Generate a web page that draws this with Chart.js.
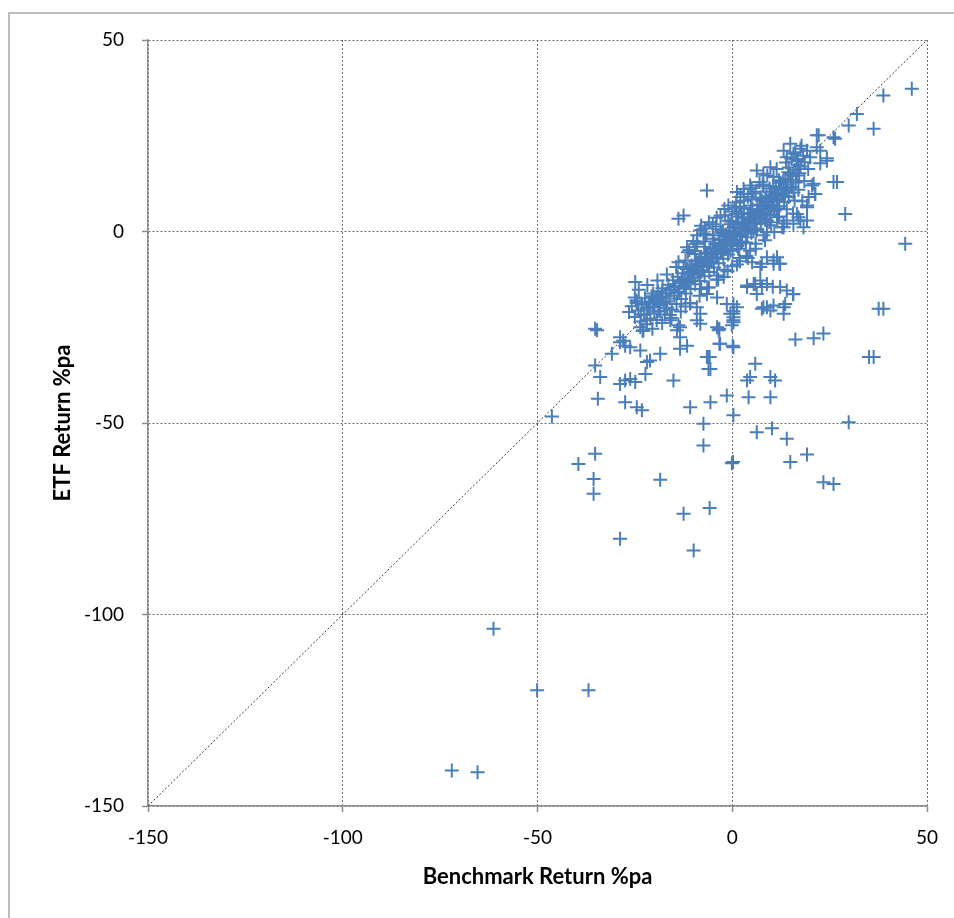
<!DOCTYPE html>
<html><head><meta charset="utf-8">
<script src="https://cdn.jsdelivr.net/npm/chart.js@4.4.1/dist/chart.umd.min.js"></script>
<style>html,body{margin:0;padding:0;background:#fff;}canvas{display:block;}</style>
</head><body>
<canvas id="c" width="954" height="918"></canvas>
<script>
// Axis ticks
const xTicks = [-150, -100, -50, 0, 50];
const yTicks = [-150, -100, -50, 0, 50];
// reference line y = x, endpoints
const diagonal = [-150, 50];

// [Benchmark Return %pa, ETF Return %pa]
const bandPoints = [
[-26.5,-21.0],[-25.8,-19.5],[-25.0,-22.3],[-24.6,-18.0],[-24.1,-20.6],[-23.5,-23.5],[-23.2,-19.1],[-22.7,-21.8],[-22.4,-17.4],[-22.0,-24.2],
[-21.6,-20.1],[-21.3,-18.6],[-21.0,-22.7],[-20.7,-16.9],[-20.3,-19.8],[-20.0,-21.4],[-19.7,-17.8],[-19.4,-23.1],[-19.1,-15.6],[-18.8,-19.2],
[-18.5,-20.9],[-18.2,-17.0],[-17.9,-14.8],[-17.6,-18.6],[-17.3,-21.7],[-17.0,-16.2],[-16.7,-19.9],[-16.4,-13.9],[-16.1,-17.5],[-15.8,-15.3],
[-15.5,-20.4],[-15.2,-12.7],[-14.9,-16.8],[-14.6,-14.6],[-14.3,-18.9],[-14.0,-11.8],[-13.7,-15.7],[-13.4,-13.5],[-13.1,-17.6],[-12.8,-10.9],
[-12.5,-14.3],[-12.2,-12.4],[-11.9,-16.2],[-11.6,-9.8],[-11.3,-13.2],[-11.0,-11.1],[-10.7,-15.0],[-10.4,-8.9],[-10.1,-12.0],[-9.8,-10.2],
[-9.5,-13.8],[-9.2,-7.8],[-8.9,-11.3],[-8.6,-9.2],[-8.3,-12.9],[-8.0,-6.7],[-7.7,-10.1],[-7.4,-8.1],[-7.1,-11.7],[-6.8,-5.6],
[-6.5,-9.0],[-6.2,-7.0],[-5.9,-10.6],[-5.6,-4.4],[-5.3,-7.9],[-5.0,-6.0],[-4.7,-9.4],[-4.4,-3.3],[-4.1,-6.8],[-3.8,-4.9],
[-3.5,-8.3],[-3.2,-2.2],[-2.9,-5.6],[-2.6,-3.8],[-2.3,-7.1],[-2.0,-1.1],[-1.7,-4.5],[-1.4,-2.7],[-1.1,-6.0],[-0.8,0.1],
[-0.5,-3.4],[-0.2,-1.6],[0.1,-4.9],[0.4,1.2],[0.7,-2.2],[1.0,-0.4],[1.3,-3.8],[1.6,2.3],[1.9,-1.1],[2.2,0.7],
[2.5,-2.6],[2.8,3.5],[3.1,0.1],[3.4,1.9],[3.7,-1.5],[4.0,4.6],[4.3,1.3],[4.6,3.0],[4.9,-0.3],[5.2,5.8],
[5.5,2.4],[5.8,4.2],[6.1,0.8],[6.4,6.9],[6.7,3.6],[7.0,5.4],[7.3,2.0],[7.6,8.1],[7.9,4.7],[8.2,6.5],
[8.5,3.1],[8.8,9.2],[9.1,5.9],[9.4,7.7],[9.7,4.3],[10.0,10.4],[10.3,7.0],[10.6,8.8],[10.9,5.5],[11.2,11.5],
[11.5,8.2],[11.8,10.0],[12.1,6.6],[12.4,12.7],[12.7,9.3],[13.0,11.1],[13.3,7.8],[13.6,13.8],[13.9,10.5],[14.2,12.3],
[14.5,9.0],[14.8,15.0],[15.1,11.6],[15.4,13.4],[15.7,10.2],[16.0,16.1],[16.3,12.8],[16.6,14.6],[16.9,17.3],[17.2,15.2],
[-24.0,-15.2],[-23.0,-26.0],[-21.8,-14.0],[-20.5,-25.4],[-19.2,-12.8],[-18.0,-23.9],[-16.8,-11.2],[-15.6,-22.6],[-14.4,-9.3],[-13.2,-20.9],
[-12.0,-7.6],[-10.8,-18.7],[-9.6,-5.9],[-8.4,-16.8],[-7.2,-4.0],[-6.0,-14.6],[-4.8,-1.9],[-3.6,-12.5],[-2.4,0.2],[-1.2,-10.4],
[0.0,2.6],[1.2,-8.6],[2.4,4.5],[3.6,-6.4],[4.8,6.8],[6.0,-4.5],[7.2,8.9],[8.4,-2.3],[9.6,11.2],[10.8,-0.1],
[12.0,13.4],[13.2,2.1],[14.4,15.5],[15.6,4.7],[16.8,18.4],[18.0,7.9],[-1.8,4.2],[0.6,6.2],[3.0,8.0],[5.4,9.9],
[7.8,12.3],[9.0,14.6],[11.4,16.3],[13.8,18.0],[-6.6,-0.8],[-9.0,-3.1],[-11.4,-5.4],[-13.8,-8.0],[-4.2,1.3],[1.8,-6.9],
[-15.0,-14.4],[-14.0,-15.8],[-13.0,-12.9],[-12.0,-14.9],[-11.0,-9.6],[-10.0,-11.0],[-9.0,-8.4],[-8.0,-10.6],[-7.0,-7.1],[-6.0,-8.3],
[-5.0,-4.7],[-4.0,-5.9],[-3.0,-3.9],[-2.0,-4.6],[-1.0,-1.5],[0.0,-2.6],[1.0,0.9],[2.0,-0.9],[3.0,2.4],[4.0,0.5],
[5.0,3.7],[6.0,2.1],[7.0,7.0],[8.0,4.9],[9.0,7.9],[10.0,6.2],[11.0,9.7],[12.0,8.5],[13.0,13.0],[14.0,11.4],
[-17.0,-18.2],[-18.0,-16.1],[-19.0,-20.7],[-20.5,-18.3],[-22.0,-19.9],[-23.5,-21.6],[-25.0,-17.2],[-2.5,-0.4],[-0.5,1.9],[1.5,3.9]
];

const coreExtraPoints = [
[-12.5,-9.5],[-11.5,-12.8],[-10.5,-10.5],[-9.5,-9.0],[-8.5,-7.6],[-7.5,-9.3],[-6.5,-5.8],[-5.5,-7.1],[-4.5,-5.2],[-3.5,-3.0],
[-2.5,-5.3],[-1.5,-0.8],[-0.5,-5.0],[0.5,-1.2],[1.5,-4.5],[2.5,1.8],[3.5,-2.9],[4.5,4.8],[5.5,0.2],[6.5,5.2],
[7.5,3.2],[8.5,8.6],[9.5,2.4],[10.5,11.8],[11.5,6.0],[12.5,10.9],[13.5,9.3],[14.5,16.7],[15.5,14.6],[16.5,18.9],
[17.5,17.0],[18.2,19.8],[-1.0,2.8],[1.0,4.6],[3.0,6.1],[5.0,8.4],[-3.0,0.6],[-5.0,-1.0],[-7.0,-2.6],[-9.5,-5.1]
];

const bandEdgePoints = [
[-11.0,-4.8],[-10.0,-2.5],[-9.0,-1.0],[-8.0,1.5],[-7.0,0.8],[-6.0,2.4],[-5.0,1.9],[-4.0,3.6],[-3.0,4.1],[-2.0,5.9],
[-1.0,6.8],[0.0,5.2],[1.0,7.6],[2.0,6.5],[3.0,9.8],[4.0,9.1],[5.0,11.3],[6.0,10.4],[7.0,12.9],[8.0,11.8],
[-4.0,-12.6],[-2.0,-10.0],[0.0,-9.1],[2.0,-7.8],[4.0,-6.9],[6.0,-3.2],[8.0,-1.0],[10.0,1.6],[12.0,3.9],[14.0,5.8],
[16.0,8.1],[17.0,10.9],[18.5,13.2],[-8.0,-15.0],[-12.0,-19.6],[-16.0,-21.8],[17.8,22.4],[18.6,18.1],[19.5,16.3],[16.2,20.7],
[15.2,19.0]
];

const nearBandPoints = [
[-6.5,10.7],[-13.8,3.3],[-12.5,4.2],[1.2,10.3],[2.1,9.0],[4.6,12.0],[2.9,11.1],[6.3,15.9],[8.0,15.1],[9.8,16.8],
[10.6,14.2],[13.2,21.1],[14.9,22.9],[15.7,20.3],[14.0,19.4],[17.5,21.6],[19.2,21.1],[20.0,19.4],[-8.2,0.3],[-7.4,-0.5],
[-9.1,-3.2],[-11.6,-4.1],[20.9,12.5],[19.6,9.0],[19.2,6.3],[16.6,4.6],[14.0,2.9],[13.2,1.1],[17.5,2.9],[18.3,1.1],
[26.0,12.9],[22.6,17.8],[24.3,19.1],[10.6,5.5],[11.5,3.7],[8.9,2.9],[7.2,4.6],[6.3,0.3],[8.9,-0.2],[3.8,-0.6],
[2.1,-3.2],[4.6,-5.0],[8.9,-6.7],[11.5,-6.7],[17.0,3.7],[19.2,2.9],[15.7,2.0],[12.8,1.1],[21.3,9.8],[20.5,12.0],
[22.6,21.1],[21.7,22.0],[21.7,25.1],[26.0,24.6],[5.1,-8.0],[7.2,-9.3],[10.6,-8.4],[12.3,-8.4],[15.7,-16.3],[12.3,-14.5],
[14.0,-15.4],[8.9,-13.7],[7.2,-12.8],[1.2,-19.8],[0.3,-21.5],[8.0,-19.8],[10.6,-19.3],[13.2,-19.8],[-6.5,-16.3],[-3.9,-17.2],
[-3.9,-11.5],[-2.2,-11.9],[-24.9,-13.2],[-24.5,-18.7],[-20.3,-16.2],[-18.5,-17.2],[-19.3,-18.0],[15.6,-16.4],[12.1,-8.4],[3.8,-14.1],
[5.9,-13.7],[10.4,-14.4],[13.6,-18.9],[13.2,-21.5],[7.6,-20.2],[9.8,-20.6],[0.3,-22.4],[0.3,-23.7],[0.3,-19.0],[-3.3,-25.4],
[-6.4,-14.6],[-10.8,-18.8],[-15.9,-23.2],[-13.4,-25.0],[-9.1,-23.2],[-3.9,-25.0],[-1.4,-18.9],[-0.5,-21.5],[0.3,-23.2],[5.5,-13.7],
[7.6,-8.4],[10.6,-7.6],[3.8,-14.5],[6.3,-16.3],[7.6,-14.5],[8.9,-19.8],[-19.3,-17.2],[-18.5,-18.9],[-21.1,-19.8],[-24.5,-18.5],
[-35.2,-25.4],[-28.8,-27.6],[-28.0,-28.5],[-23.6,-25.0],[-22.8,-25.8],[-21.9,-23.2],[-14.2,-25.8],[-13.4,-27.6],[-9.1,-19.8],[-8.2,-21.5]
];

const outlierPoints = [
[-34.7,-25.8],[-34.5,-43.7],[-46.3,-48.3],[-33.9,-38.0],[-35.2,-35.0],[-30.9,-31.9],[-28.8,-28.9],[-27.5,-29.8],[-26.2,-30.2],[-23.6,-31.1],
[-28.8,-39.8],[-27.5,-38.9],[-26.2,-38.5],[-24.9,-39.3],[-27.5,-44.6],[-24.5,-45.9],[-23.2,-46.7],[-21.9,-34.1],[-21.1,-33.7],[-18.5,-31.9],
[-22.3,-37.2],[-15.1,-38.9],[-13.8,-24.5],[-13.4,-30.6],[-11.6,-29.8],[-10.8,-45.9],[-5.6,-44.6],[-7.4,-50.2],[-7.4,-55.9],[-6.1,-32.8],
[-6.1,-35.9],[-3.5,-25.8],[-3.1,-29.3],[-8.2,-24.1],[0.3,-48.0],[-0.1,-60.5],[-1.4,-42.8],[5.9,-34.5],[4.6,-38.0],[3.8,-38.9],
[9.8,-38.0],[11.0,-38.9],[4.2,-43.3],[9.8,-43.3],[6.3,-52.4],[10.2,-51.4],[14.0,-54.1],[14.9,-60.2],[19.2,-58.2],[23.4,-65.5],
[26.0,-65.9],[29.9,-49.8],[36.3,-32.8],[38.8,-20.2],[16.2,-28.2],[20.9,-27.9],[23.4,-26.6],[-35.2,-58.0],[-39.5,-60.7],[-35.6,-64.6],
[-35.6,-68.5],[-18.5,-64.8],[-12.5,-73.7],[-5.8,-72.2],[-28.8,-80.2],[-9.9,-83.3],[-61.3,-103.7],[-50.1,-119.8],[-36.9,-119.8],[-72.0,-140.7],
[-65.4,-141.2],[0.3,-30.2],[0.3,-20.8],[-5.8,-32.8],[-3.3,-29.3],[0.2,-60.2],[0.1,-29.8],[-0.1,-24.5],[-6.5,-32.8],[-5.6,-35.9],
[46.1,37.3],[38.8,35.5],[32.0,30.7],[29.9,27.7],[36.3,26.8],[26.4,24.2],[22.2,25.1],[24.3,18.5],[26.9,12.9],[29.0,4.6],
[44.4,-3.2],[37.6,-20.2],[35.1,-32.8],[21.3,9.8],[19.2,6.8]
];

const toXY = arr => arr.map(p => ({x: p[0], y: p[1]}));
const allPoints = [].concat(toXY(bandPoints), toXY(coreExtraPoints), toXY(bandEdgePoints), toXY(nearBandPoints), toXY(outlierPoints));

const FONT = 'Lato, "Open Sans", sans-serif';
const framePlugin = {
  id: 'frame',
  beforeDraw(chart) {
    const ctx = chart.ctx;
    ctx.save();
    ctx.fillStyle = '#ffffff';
    ctx.fillRect(0, 0, chart.width, chart.height);
    ctx.strokeStyle = '#bdbdbd';
    ctx.lineWidth = 2;
    ctx.strokeRect(9, 13, 1200, 1200);
    ctx.restore();
  }
};

function axis(pos, ticksArr, title, fitFn, titlePad) {
  return {
    type: 'linear',
    position: pos,
    min: ticksArr[0],
    max: ticksArr[ticksArr.length - 1],
    afterBuildTicks: s => { s.ticks = ticksArr.map(v => ({value: v})); },
    afterFit: fitFn,
    ticks: { color: '#000', font: { family: FONT, size: 19 }, padding: pos === 'left' ? 18 : 14, autoSkip: false, maxRotation: 0 },
    grid: { color: '#6e6e6e', lineWidth: 1, drawTicks: true, tickLength: 6, tickColor: '#8c8c8c', tickWidth: 1.5, borderDash: [2, 2] },
    border: { display: true, color: '#8c8c8c', width: 1.5, dash: [2, 2] },
    title: { display: true, text: title, color: '#000', font: { family: FONT, size: 22, weight: 'bold' }, padding: titlePad }
  };
}

new Chart(document.getElementById('c'), {
  type: 'scatter',
  data: {
    datasets: [
      {
        label: 'ETF vs Benchmark',
        data: allPoints,
        pointStyle: 'cross',
        radius: 7,
        hoverRadius: 7,
        borderWidth: 2,
        borderColor: '#4a7ebb',
        backgroundColor: '#4a7ebb',
        order: 1
      },
      {
        label: 'y = x',
        type: 'line',
        data: diagonal.map(v => ({x: v, y: v})),
        borderColor: '#3a3a3a',
        borderWidth: 1,
        borderDash: [2, 2],
        pointRadius: 0,
        fill: false,
        order: 2
      }
    ]
  },
  options: {
    responsive: false,
    animation: false,
    devicePixelRatio: 1,
    layout: { padding: { left: 0, top: 40, right: 27, bottom: 0 } },
    plugins: { legend: { display: false }, tooltip: { enabled: false } },
    scales: {
      x: axis('bottom', xTicks, 'Benchmark Return %pa', s => { s.height = 112; }, { top: 0, bottom: 28 }),
      y: axis('left', yTicks, 'ETF Return %pa', s => { s.width = 148; }, { top: 50, bottom: 0 })
    }
  },
  plugins: [framePlugin]
});
</script>
</body></html>
